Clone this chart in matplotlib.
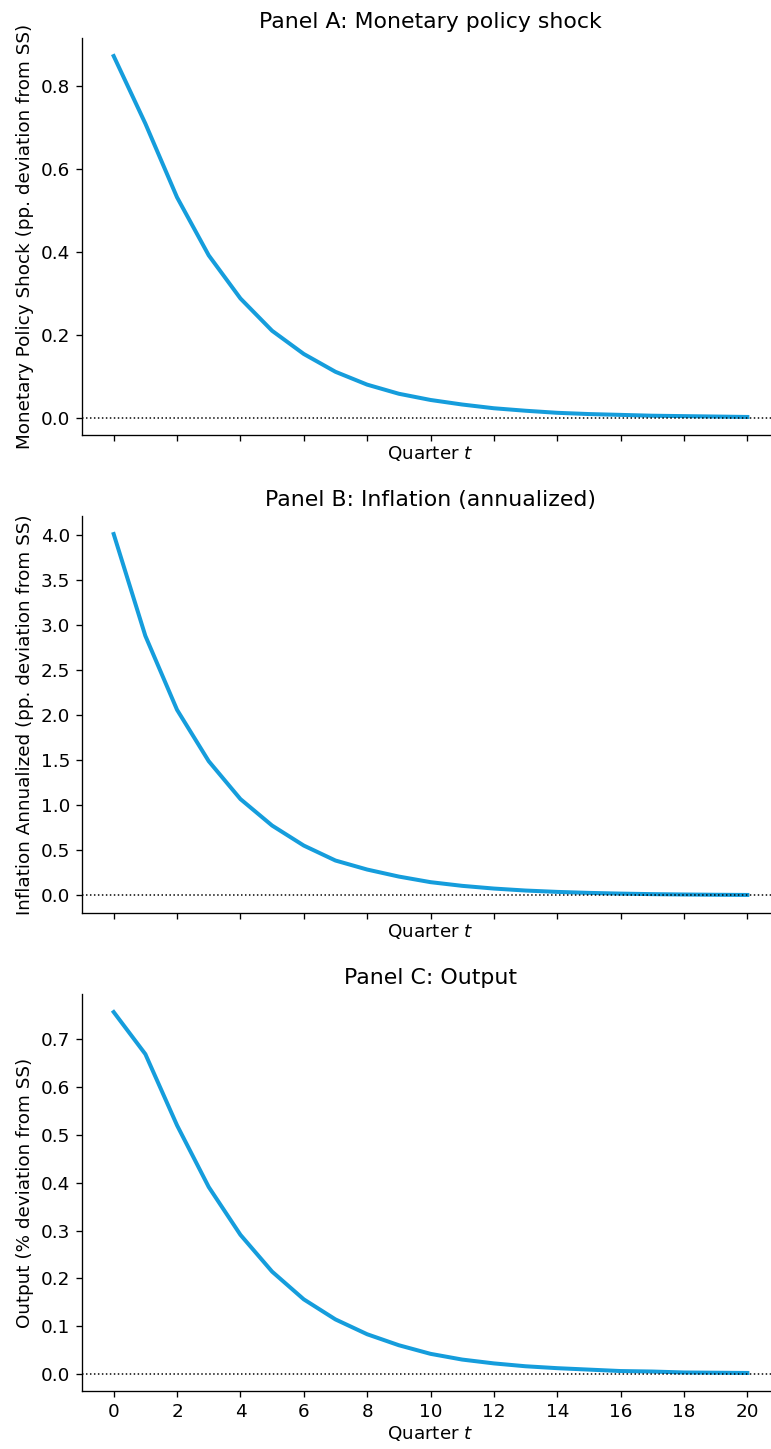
import numpy as np
import matplotlib.pyplot as plt

# Impulse responses to a monetary policy shock, quarters 0..20
quarters = np.arange(21)

mp_shock = [0.873, 0.710, 0.532, 0.392, 0.288, 0.210, 0.154, 0.111, 0.080,
            0.058, 0.043, 0.032, 0.023, 0.017, 0.012, 0.009, 0.007, 0.005,
            0.004, 0.003, 0.002]

inflation_ann = [4.01, 2.88, 2.06, 1.49, 1.07, 0.776, 0.554, 0.388, 0.288,
                 0.210, 0.148, 0.107, 0.077, 0.055, 0.040, 0.029, 0.021,
                 0.015, 0.011, 0.008, 0.006]

output = [0.757, 0.669, 0.520, 0.391, 0.291, 0.214, 0.156, 0.114, 0.083,
          0.060, 0.042, 0.030, 0.022, 0.016, 0.012, 0.009, 0.006, 0.005,
          0.003, 0.0025, 0.002]

panels = [
    ("Panel A: Monetary policy shock", mp_shock,
     "Monetary Policy Shock (pp. deviation from SS)"),
    ("Panel B: Inflation (annualized)", inflation_ann,
     "Inflation Annualized (pp. deviation from SS)"),
    ("Panel C: Output", output, "Output (% deviation from SS)"),
]

W, H = 771, 1449
fig = plt.figure(figsize=(W / 120, H / 120), dpi=120)

left, right = 82, 779
tops = [38, 516, 994]
height = 397

line_color = "#159ddc"

for i, (title, values, ylabel) in enumerate(panels):
    ax = fig.add_axes([left / W, 1 - (tops[i] + height) / H,
                       (right - left) / W, height / H])
    ax.plot(quarters, values, color=line_color, linewidth=2.4)
    ax.axhline(0, color="black", linestyle=":", linewidth=0.9)
    ax.set_title(title, fontsize=13.2)
    ax.set_ylabel(ylabel, fontsize=11)
    ax.set_xlabel("Quarter $t$", fontsize=11, labelpad=2)
    ax.set_xticks(np.arange(0, 21, 2))
    ax.tick_params(labelsize=11)
    ax.spines["top"].set_visible(False)
    ax.spines["right"].set_visible(False)
    if i < 2:
        ax.tick_params(axis="x", labelbottom=False)

fig.savefig("out.png", dpi=120)
